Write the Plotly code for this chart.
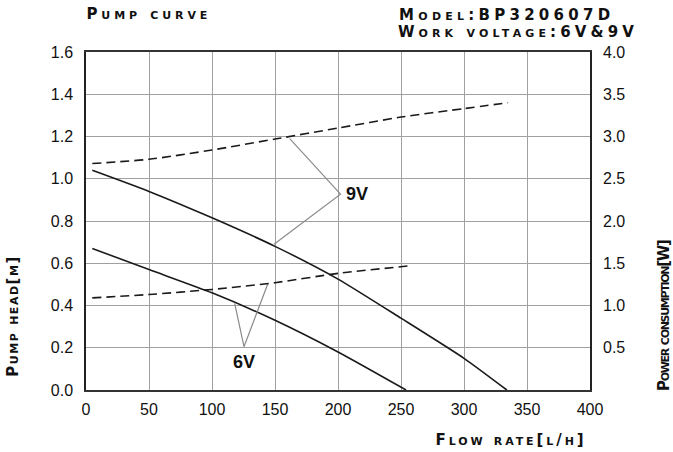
import plotly.graph_objects as go

# ---- data ----
flow_9v_head = [5, 50, 100, 150, 200, 250, 300, 334]
head_9v = [1.04, 0.94, 0.815, 0.68, 0.525, 0.34, 0.15, 0.0]
flow_6v_head = [5, 50, 100, 150, 200, 254]
head_6v = [0.67, 0.57, 0.46, 0.33, 0.18, 0.0]
flow_9v_power = [5, 50, 100, 150, 200, 250, 300, 335]
power_9v = [2.68, 2.73, 2.84, 2.97, 3.10, 3.23, 3.33, 3.40]
flow_6v_power = [5, 50, 100, 150, 200, 257]
power_6v = [1.09, 1.13, 1.19, 1.27, 1.38, 1.47]

# leader lines for labels (flow, head)
leader_9v_x = [161.7, 202, 149.2]
leader_9v_y = [1.19, 0.927, 0.69]
leader_6v_x = [118, 125.4, 144.4]
leader_6v_y = [0.41, 0.205, 0.504]

x_ticks = [0, 50, 100, 150, 200, 250, 300, 350, 400]
head_ticks = [0.0, 0.2, 0.4, 0.6, 0.8, 1.0, 1.2, 1.4, 1.6]
power_ticks = [0.5, 1.0, 1.5, 2.0, 2.5, 3.0, 3.5, 4.0]

LINE = "#1a1a1a"
GRID = "#a0a0a0"
TICKFONT = dict(family="Liberation Sans, Arial, sans-serif", size=16, color="#111")
CAPFONT = dict(family="DejaVu Sans, sans-serif", size=15, color="#111", weight="bold", variant="small-caps")

fig = go.Figure()

fig.add_trace(go.Scatter(x=flow_9v_head, y=head_9v, mode="lines",
                         line=dict(color=LINE, width=1.6, shape="spline", smoothing=0.6),
                         hoverinfo="skip", showlegend=False))
fig.add_trace(go.Scatter(x=flow_6v_head, y=head_6v, mode="lines",
                         line=dict(color=LINE, width=1.6, shape="spline", smoothing=0.6),
                         hoverinfo="skip", showlegend=False))
fig.add_trace(go.Scatter(x=flow_9v_power, y=power_9v, mode="lines", yaxis="y2",
                         line=dict(color=LINE, width=1.6, dash="9px,5px", shape="spline", smoothing=0.6),
                         hoverinfo="skip", showlegend=False))
fig.add_trace(go.Scatter(x=flow_6v_power, y=power_6v, mode="lines", yaxis="y2",
                         line=dict(color=LINE, width=1.6, dash="9px,5px", shape="spline", smoothing=0.6),
                         hoverinfo="skip", showlegend=False))
fig.add_trace(go.Scatter(x=leader_9v_x, y=leader_9v_y, mode="lines",
                         line=dict(color="#8a8a8a", width=1.2), hoverinfo="skip", showlegend=False))
fig.add_trace(go.Scatter(x=leader_6v_x, y=leader_6v_y, mode="lines",
                         line=dict(color="#8a8a8a", width=1.2), hoverinfo="skip", showlegend=False))

annotations = [
    dict(text="9V", x=leader_9v_x[1], y=leader_9v_y[1], xref="x", yref="y", xanchor="left",
         yanchor="middle", xshift=3, showarrow=False,
         font=dict(family="Liberation Sans, Arial, sans-serif", size=18, color="#111", weight="bold")),
    dict(text="6V", x=leader_6v_x[1], y=leader_6v_y[1], xref="x", yref="y", xanchor="center",
         yanchor="top", yshift=-3, showarrow=False,
         font=dict(family="Liberation Sans, Arial, sans-serif", size=18, color="#111", weight="bold")),
    dict(text="Pump curve", x=148.5, y=14, showarrow=False, font=CAPFONT),
    dict(text="Model:BP320607D", x=506, y=15, showarrow=False, font=CAPFONT),
    dict(text="Work voltage:6V&amp;9V", x=518, y=32, showarrow=False, font=CAPFONT),
    dict(text="Pump head[m]", x=12.5, y=316, showarrow=False, textangle=-90, font=CAPFONT),
    dict(text="Power consumption[W]", x=664, y=316, showarrow=False, textangle=-90, font=CAPFONT),
    dict(text="Flow rate[l/h]", x=510.5, y=440, showarrow=False, font=CAPFONT),
]
# target visible widths of the wide-lettered caption texts (pixels)
caption_widths = {2: 121, 3: 211, 4: 236, 5: 120, 6: 152, 7: 148}

W, H = 673, 452
L, R, T, B = 86, 83, 52, 62
pw, ph = W - L - R, H - T - B
for a in annotations[2:]:
    px, py = a["x"], a["y"]
    a["x"] = (px - L) / pw
    a["y"] = 1 - (py - T) / ph
    a["xref"] = "paper"
    a["yref"] = "paper"
    a["xanchor"] = "center"
    a["yanchor"] = "middle"

fig.update_layout(
    width=W, height=H,
    margin=dict(l=L, r=R, t=T, b=B),
    paper_bgcolor="white", plot_bgcolor="white",
    annotations=annotations,
    xaxis=dict(range=[0, 400], tickvals=x_ticks, showgrid=True, gridcolor=GRID, gridwidth=1,
               showline=True, linecolor="#333", linewidth=2, mirror=True, zeroline=False,
               tickfont=TICKFONT, ticks="", ticklabelstandoff=4),
    yaxis=dict(range=[0, 1.6], tickvals=head_ticks, tickformat=".1f", showgrid=True,
               gridcolor=GRID, gridwidth=1, showline=True, linecolor="#222", linewidth=1.5,
               mirror=True, zeroline=False, tickfont=TICKFONT, ticks="", ticklabelstandoff=8),
    yaxis2=dict(range=[0, 4], tickvals=power_ticks, tickformat=".1f", overlaying="y", side="right",
                showgrid=False, showline=False, zeroline=False, tickfont=TICKFONT, ticks="",
                ticklabelstandoff=12),
)

targets_js = "{" + ",".join(f"{k}:{v}" for k, v in caption_widths.items()) + "}"
post = """
document.body.style.margin='0';
document.body.style.padding='0';
var gd=document.getElementById('{plot_id}');
var targets=%s;
gd.querySelectorAll('g.annotation').forEach(function(g){
  var i=+g.getAttribute('data-index');
  if(targets[i]){
    var t=g.querySelector('text');
    var n=t.textContent.length;
    var w=t.getComputedTextLength();
    var s=(targets[i]-w)/Math.max(n-1,1);
    t.style.letterSpacing=s+'px';
  }
});
""" % targets_js

fig.write_html("out.html", post_script=post, config={"displayModeBar": False})
